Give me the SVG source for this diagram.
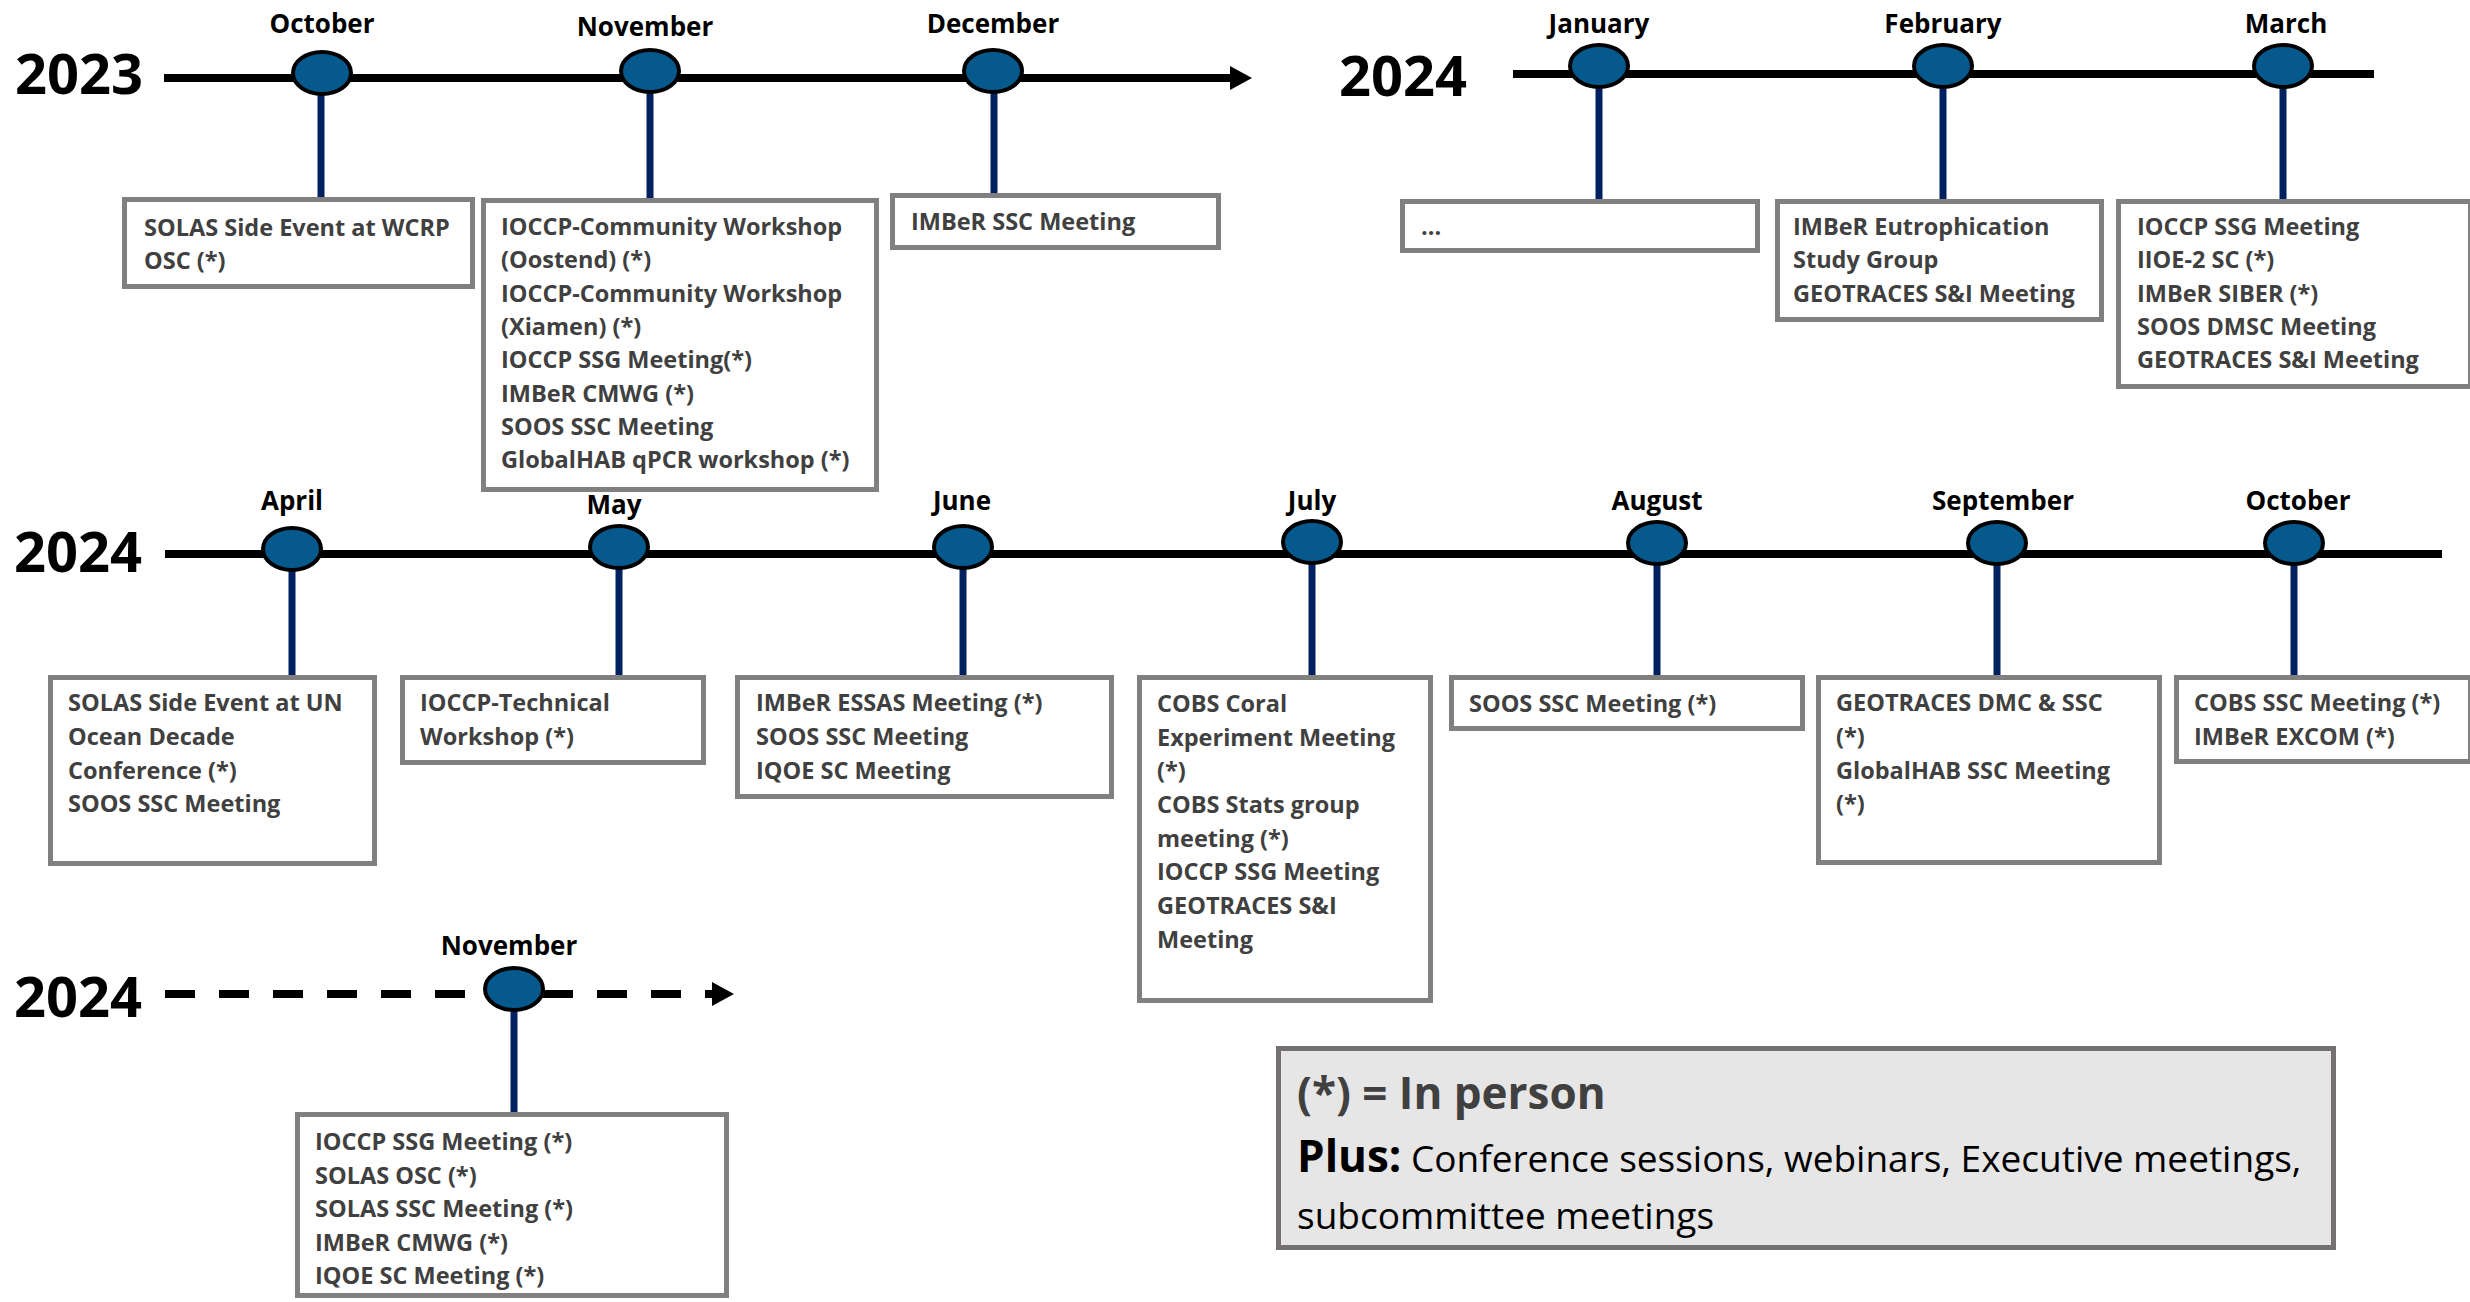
<svg xmlns="http://www.w3.org/2000/svg" width="2470" height="1302" viewBox="0 0 2470 1302">
<style>
.yr{font-family:'Open Sans','Liberation Sans',sans-serif;font-weight:bold;font-size:56px;fill:#000}
.mo{font-family:'Open Sans','Liberation Sans',sans-serif;font-weight:bold;font-size:26px;fill:#000;text-anchor:middle}
.bx{fill:#fff;stroke:#808080;stroke-width:5}
.tx{font-family:'Open Sans','Liberation Sans',sans-serif;font-weight:bold;font-size:23.5px;fill:#404040}
.ax{stroke:#000;stroke-width:8;fill:none}
.st{stroke:#002060;stroke-width:7}
.dot{fill:#05598c;stroke:#000;stroke-width:4}
.lg{fill:#e7e6e6;stroke:#767171;stroke-width:5}
.lb{font-family:'Open Sans','Liberation Sans',sans-serif;font-weight:bold;font-size:44px}
.lr{font-family:'Open Sans','Liberation Sans',sans-serif;font-weight:normal;font-size:37px;fill:#000}
</style>
<defs>
<marker id="arr" markerUnits="userSpaceOnUse" markerWidth="24" markerHeight="26" refX="0" refY="13" orient="auto">
<path d="M0,1 L22,13 L0,25 z" fill="#000"/>
</marker>
</defs>
<rect x="0" y="0" width="2470" height="1302" fill="#fff"/>

<g id="years">
<text class="yr" x="15" y="94">2023</text>
<text class="yr" x="1339" y="96">2024</text>
<text class="yr" x="14" y="572">2024</text>
<text class="yr" x="14" y="1017">2024</text>
</g>

<g id="connectors">
<line class="ax" x1="164" y1="78" x2="1230" y2="78" marker-end="url(#arr)"/>
<line class="ax" x1="1513" y1="74" x2="2374" y2="74"/>
<line class="ax" x1="165" y1="554" x2="2442" y2="554"/>
<line class="ax" x1="165" y1="994" x2="712" y2="994" stroke-width="9" stroke-dasharray="30 24" marker-end="url(#arr)"/>
<line class="st" x1="321" y1="90" x2="321" y2="199"/>
<line class="st" x1="650" y1="90" x2="650" y2="200"/>
<line class="st" x1="994" y1="90" x2="994" y2="196"/>
<line class="st" x1="1599" y1="85" x2="1599" y2="201"/>
<line class="st" x1="1943" y1="85" x2="1943" y2="201"/>
<line class="st" x1="2283" y1="85" x2="2283" y2="201"/>
<line class="st" x1="292" y1="565" x2="292" y2="677"/>
<line class="st" x1="619" y1="565" x2="619" y2="677"/>
<line class="st" x1="963" y1="565" x2="963" y2="677"/>
<line class="st" x1="1312" y1="560" x2="1312" y2="677"/>
<line class="st" x1="1657" y1="560" x2="1657" y2="677"/>
<line class="st" x1="1997" y1="560" x2="1997" y2="677"/>
<line class="st" x1="2294" y1="560" x2="2294" y2="677"/>
<line class="st" x1="514" y1="1005" x2="514" y2="1114"/>
</g>

<g id="oct2023">
<ellipse class="dot" cx="322" cy="73" rx="29" ry="21"/>
<text class="mo" x="322" y="33">October</text>
<rect class="bx" x="124.5" y="199.5" width="348" height="87"/>
<text class="tx" x="144" y="236">SOLAS Side Event at WCRP</text>
<text class="tx" x="144" y="269">OSC (*)</text>
</g>

<g id="nov2023">
<ellipse class="dot" cx="650" cy="71" rx="29" ry="21"/>
<text class="mo" x="645" y="36">November</text>
<rect class="bx" x="483.5" y="200.5" width="393" height="289"/>
<text class="tx" x="501" y="235">IOCCP-Community Workshop</text>
<text class="tx" x="501" y="268">(Oostend) (*)</text>
<text class="tx" x="501" y="302">IOCCP-Community Workshop</text>
<text class="tx" x="501" y="335">(Xiamen) (*)</text>
<text class="tx" x="501" y="368">IOCCP SSG Meeting(*)</text>
<text class="tx" x="501" y="402">IMBeR CMWG (*)</text>
<text class="tx" x="501" y="435">SOOS SSC Meeting</text>
<text class="tx" x="501" y="468">GlobalHAB qPCR workshop (*)</text>
</g>

<g id="dec2023">
<ellipse class="dot" cx="993" cy="71" rx="29" ry="21"/>
<text class="mo" x="993" y="33">December</text>
<rect class="bx" x="892.5" y="195.5" width="326" height="52"/>
<text class="tx" x="911" y="230">IMBeR SSC Meeting</text>
</g>

<g id="jan2024">
<ellipse class="dot" cx="1599" cy="66" rx="29" ry="21"/>
<text class="mo" x="1599" y="33">January</text>
<rect class="bx" x="1402.5" y="201.5" width="355" height="49"/>
<text class="tx" x="1421" y="235">...</text>
</g>

<g id="feb2024">
<ellipse class="dot" cx="1943" cy="66" rx="29" ry="21"/>
<text class="mo" x="1943" y="33">February</text>
<rect class="bx" x="1777.5" y="201.5" width="324" height="118"/>
<text class="tx" x="1793" y="235">IMBeR Eutrophication</text>
<text class="tx" x="1793" y="268">Study Group</text>
<text class="tx" x="1793" y="302">GEOTRACES S&amp;I Meeting</text>
</g>

<g id="mar2024">
<ellipse class="dot" cx="2283" cy="66" rx="29" ry="21"/>
<text class="mo" x="2286" y="33">March</text>
<rect class="bx" x="2118.5" y="201.5" width="352" height="185"/>
<text class="tx" x="2137" y="235">IOCCP SSG Meeting</text>
<text class="tx" x="2137" y="268">IIOE-2 SC (*)</text>
<text class="tx" x="2137" y="302">IMBeR SIBER (*)</text>
<text class="tx" x="2137" y="335">SOOS DMSC Meeting</text>
<text class="tx" x="2137" y="368">GEOTRACES S&amp;I Meeting</text>
</g>

<g id="apr2024">
<ellipse class="dot" cx="292" cy="549" rx="29" ry="21"/>
<text class="mo" x="292" y="510">April</text>
<rect class="bx" x="50.5" y="677.5" width="324" height="186"/>
<text class="tx" x="68" y="711">SOLAS Side Event at UN</text>
<text class="tx" x="68" y="745">Ocean Decade</text>
<text class="tx" x="68" y="779">Conference (*)</text>
<text class="tx" x="68" y="812">SOOS SSC Meeting</text>
</g>

<g id="may2024">
<ellipse class="dot" cx="619" cy="547" rx="29" ry="21"/>
<text class="mo" x="614" y="514">May</text>
<rect class="bx" x="402.5" y="677.5" width="301" height="85"/>
<text class="tx" x="420" y="711">IOCCP-Technical</text>
<text class="tx" x="420" y="745">Workshop (*)</text>
</g>

<g id="jun2024">
<ellipse class="dot" cx="963" cy="547" rx="29" ry="21"/>
<text class="mo" x="962" y="510">June</text>
<rect class="bx" x="737.5" y="677.5" width="374" height="119"/>
<text class="tx" x="756" y="711">IMBeR ESSAS Meeting (*)</text>
<text class="tx" x="756" y="745">SOOS SSC Meeting</text>
<text class="tx" x="756" y="779">IQOE SC Meeting</text>
</g>

<g id="jul2024">
<ellipse class="dot" cx="1312" cy="542" rx="29" ry="21"/>
<text class="mo" x="1312" y="510">July</text>
<rect class="bx" x="1139.5" y="677.5" width="291" height="323"/>
<text class="tx" x="1157" y="712">COBS Coral</text>
<text class="tx" x="1157" y="745.5">Experiment Meeting</text>
<text class="tx" x="1157" y="779">(*)</text>
<text class="tx" x="1157" y="813">COBS Stats group</text>
<text class="tx" x="1157" y="846.5">meeting (*)</text>
<text class="tx" x="1157" y="880">IOCCP SSG Meeting</text>
<text class="tx" x="1157" y="914">GEOTRACES S&amp;I</text>
<text class="tx" x="1157" y="947.5">Meeting</text>
</g>

<g id="aug2024">
<ellipse class="dot" cx="1657" cy="543" rx="29" ry="21"/>
<text class="mo" x="1657" y="510">August</text>
<rect class="bx" x="1451.5" y="677.5" width="351" height="51"/>
<text class="tx" x="1469" y="712">SOOS SSC Meeting (*)</text>
</g>

<g id="sep2024">
<ellipse class="dot" cx="1997" cy="543" rx="29" ry="21"/>
<text class="mo" x="2003" y="510">September</text>
<rect class="bx" x="1818.5" y="677.5" width="341" height="185"/>
<text class="tx" x="1836" y="711">GEOTRACES DMC &amp; SSC</text>
<text class="tx" x="1836" y="745">(*)</text>
<text class="tx" x="1836" y="779">GlobalHAB SSC Meeting</text>
<text class="tx" x="1836" y="812">(*)</text>
</g>

<g id="oct2024">
<ellipse class="dot" cx="2294" cy="543" rx="29" ry="21"/>
<text class="mo" x="2298" y="510">October</text>
<rect class="bx" x="2176.5" y="677.5" width="294" height="84"/>
<text class="tx" x="2194" y="711">COBS SSC Meeting (*)</text>
<text class="tx" x="2194" y="745">IMBeR EXCOM (*)</text>
</g>

<g id="nov2024">
<ellipse class="dot" cx="514" cy="989" rx="29" ry="21"/>
<text class="mo" x="509" y="955">November</text>
<rect class="bx" x="297.5" y="1114.5" width="429" height="181"/>
<text class="tx" x="315" y="1150">IOCCP SSG Meeting (*)</text>
<text class="tx" x="315" y="1184">SOLAS OSC (*)</text>
<text class="tx" x="315" y="1217">SOLAS SSC Meeting (*)</text>
<text class="tx" x="315" y="1251">IMBeR CMWG (*)</text>
<text class="tx" x="315" y="1284">IQOE SC Meeting (*)</text>
</g>

<g id="legend">
<rect class="lg" x="1278.5" y="1048.5" width="1055" height="199"/>
<text class="lb" x="1297" y="1109" fill="#404040">(*) = In person</text>
<text x="1297" y="1172"><tspan class="lb" fill="#000">Plus:</tspan><tspan class="lr"> Conference sessions, webinars, Executive meetings,</tspan></text>
<text class="lr" x="1297" y="1229">subcommittee meetings</text>
</g>
</svg>
